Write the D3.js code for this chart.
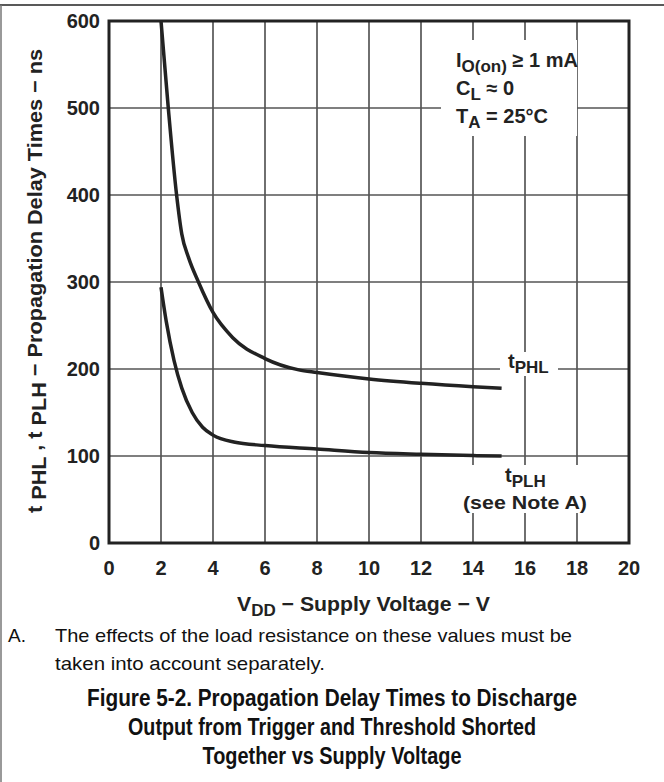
<!DOCTYPE html>
<html>
<head>
<meta charset="utf-8">
<script src="https://cdn.jsdelivr.net/npm/d3@7"></script>
<style>
  body { margin: 0; background: #fff; }
  svg { display: block; font-family: "Liberation Sans", Arial, sans-serif; }
</style>
</head>
<body>
<div id="chart"></div>
<script>

// values
var vddPHL = [2, 2.28, 2.6, 2.8, 3.06, 3.44, 4, 4.76, 6, 7.3, 8, 10, 12, 14, 15.1];
var tPHL   = [600, 500, 400, 355, 328, 300, 265, 236, 212, 199, 196, 188.5, 183.5, 179.7, 178];

var vddPLH = [2, 2.2, 2.5, 2.8, 3.2, 3.6, 4, 4.8, 6, 8, 10, 12, 14, 15.1];
var tPLH   = [294, 255, 210, 178, 150, 133, 124, 116, 112, 108, 104, 102, 100.5, 100];

var xTicks = [0, 2, 4, 6, 8, 10, 12, 14, 16, 18, 20];
var yTicks = [0, 100, 200, 300, 400, 500, 600];

var W = 664, H = 782;
var plotL = 109, plotR = 629, plotT = 21, plotB = 543;

var svg = d3.select("#chart").append("svg")
    .attr("width", W)
    .attr("height", H);

// outer frame (top and left edges only)
svg.append("line").attr("x1", 0).attr("x2", W).attr("y1", 5).attr("y2", 5)
    .attr("stroke", "#222").attr("stroke-width", 1.5);
svg.append("line").attr("x1", 1).attr("x2", 1).attr("y1", 5).attr("y2", H)
    .attr("stroke", "#777").attr("stroke-width", 1.5);

var x = d3.scaleLinear().domain([0, 20]).range([plotL, plotR]);
var y = d3.scaleLinear().domain([0, 600]).range([plotB, plotT]);

// grid
svg.append("g")
    .selectAll("line")
    .data(xTicks.slice(1, -1))
    .enter().append("line")
    .attr("x1", function(d) { return x(d); })
    .attr("x2", function(d) { return x(d); })
    .attr("y1", plotT).attr("y2", plotB)
    .attr("stroke", "#333").attr("stroke-width", 1.4);

svg.append("g")
    .selectAll("line")
    .data(yTicks.slice(1, -1))
    .enter().append("line")
    .attr("x1", plotL).attr("x2", plotR)
    .attr("y1", function(d) { return y(d); })
    .attr("y2", function(d) { return y(d); })
    .attr("stroke", "#555").attr("stroke-width", 1.6);

// white boxes behind the in-plot labels
var boxes = [[441, 40, 136, 96], [500, 352, 58, 24], [462, 465, 128, 48]];
svg.append("g").selectAll("rect")
    .data(boxes)
    .enter().append("rect")
    .attr("x", function(d) { return d[0]; })
    .attr("y", function(d) { return d[1]; })
    .attr("width", function(d) { return d[2]; })
    .attr("height", function(d) { return d[3]; })
    .attr("fill", "#fff");

// frame
svg.append("rect")
    .attr("x", plotL).attr("y", plotT)
    .attr("width", plotR - plotL).attr("height", plotB - plotT)
    .attr("fill", "none").attr("stroke", "#222").attr("stroke-width", 3);

// curves
var line = d3.line()
    .x(function(d) { return x(d[0]); })
    .y(function(d) { return y(d[1]); })
    .curve(d3.curveMonotoneX);

[[vddPHL, tPHL], [vddPLH, tPLH]].forEach(function(s) {
  svg.append("path")
      .datum(d3.zip(s[0], s[1]))
      .attr("d", line)
      .attr("fill", "none")
      .attr("stroke", "#222")
      .attr("stroke-width", 3.5);
});

// tick labels
svg.append("g").selectAll("text")
    .data(yTicks)
    .enter().append("text")
    .attr("x", 100)
    .attr("y", function(d) { return y(d); })
    .attr("dy", "0.36em")
    .attr("text-anchor", "end")
    .attr("font-size", 20).attr("font-weight", "bold").attr("fill", "#222")
    .text(function(d) { return d; });

svg.append("g").selectAll("text")
    .data(xTicks)
    .enter().append("text")
    .attr("x", function(d) { return x(d); })
    .attr("y", 575)
    .attr("text-anchor", "middle")
    .attr("font-size", 20).attr("font-weight", "bold").attr("fill", "#222")
    .text(function(d) { return d; });

// y axis title
var yt = svg.append("text")
    .attr("transform", "translate(42,281) rotate(-90)")
    .attr("text-anchor", "middle")
    .attr("font-size", 20).attr("font-weight", "bold").attr("fill", "#222")
    .attr("textLength", 464).attr("lengthAdjust", "spacingAndGlyphs");
yt.append("tspan").text("t ");
yt.append("tspan").attr("dy", 4).text("PHL");
yt.append("tspan").attr("dy", -4).text(" ,  t ");
yt.append("tspan").attr("dy", 4).text("PLH");
yt.append("tspan").attr("dy", -4).text("   \u2212 Propagation Delay Times \u2212 ns");

// x axis title
var xt = svg.append("text")
    .attr("x", 237).attr("y", 611)
    .attr("font-size", 20).attr("font-weight", "bold").attr("fill", "#222")
    .attr("textLength", 253).attr("lengthAdjust", "spacingAndGlyphs");
xt.append("tspan").text("V");
xt.append("tspan").attr("dy", 5).attr("font-size", 16).text("DD");
xt.append("tspan").attr("dy", -5).text(" \u2212 Supply Voltage \u2212 V");

// conditions
var cond = svg.append("g").attr("font-size", 20).attr("font-weight", "bold").attr("fill", "#222");
var c1 = cond.append("text").attr("x", 456).attr("y", 67);
c1.append("tspan").text("I");
c1.append("tspan").attr("dy", 5).attr("font-size", 17).text("O(on)");
c1.append("tspan").attr("dy", -5).text(" \u2265 1 mA");
var c2 = cond.append("text").attr("x", 456).attr("y", 95);
c2.append("tspan").text("C");
c2.append("tspan").attr("dy", 5).attr("font-size", 17).text("L");
c2.append("tspan").attr("dy", -5).text(" \u2248 0");
var c3 = cond.append("text").attr("x", 456).attr("y", 123);
c3.append("tspan").text("T");
c3.append("tspan").attr("dy", 5).attr("font-size", 17).text("A");
c3.append("tspan").attr("dy", -5).text(" = 25\u00b0C");

// curve labels
var l1 = cond.append("text").attr("x", 508).attr("y", 368);
l1.append("tspan").text("t");
l1.append("tspan").attr("dy", 5).attr("font-size", 17).text("PHL");
var l2 = cond.append("text").attr("x", 505).attr("y", 482);
l2.append("tspan").text("t");
l2.append("tspan").attr("dy", 5).attr("font-size", 17).text("PLH");
cond.append("text").attr("x", 463).attr("y", 509)
    .attr("font-size", 18)
    .attr("textLength", 124).attr("lengthAdjust", "spacingAndGlyphs")
    .text("(see Note A)");

// note
var note = svg.append("g").attr("font-size", 19).attr("fill", "#111");
note.append("text").attr("x", 8).attr("y", 642).text("A.");
note.append("text").attr("x", 55).attr("y", 642)
    .attr("textLength", 517).attr("lengthAdjust", "spacingAndGlyphs")
    .text("The effects of the load resistance on these values must be");
note.append("text").attr("x", 55).attr("y", 670)
    .attr("textLength", 270).attr("lengthAdjust", "spacingAndGlyphs")
    .text("taken into account separately.");

// figure title
var titleLines = [
  ["Figure 5-2. Propagation Delay Times to Discharge", 490],
  ["Output from Trigger and Threshold Shorted", 408],
  ["Together vs Supply Voltage", 259]
];
svg.append("g").selectAll("text")
    .data(titleLines)
    .enter().append("text")
    .attr("x", 332)
    .attr("y", function(d, i) { return 706 + i * 29; })
    .attr("text-anchor", "middle")
    .attr("font-size", 24).attr("font-weight", "bold").attr("fill", "#111")
    .attr("textLength", function(d) { return d[1]; })
    .attr("lengthAdjust", "spacingAndGlyphs")
    .text(function(d) { return d[0]; });

</script>
</body>
</html>
